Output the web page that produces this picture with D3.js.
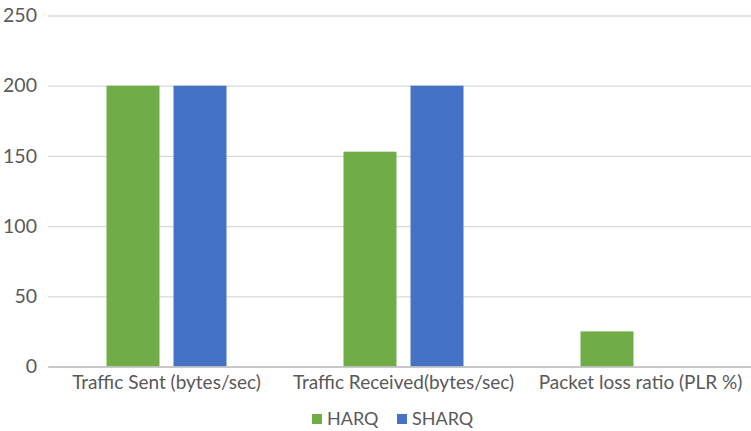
<!DOCTYPE html>
<html>
<head>
<meta charset="utf-8">
<script src="https://cdn.jsdelivr.net/npm/d3@7"></script>
<style>
  html, body { margin: 0; padding: 0; background: #fff; }
  svg { display: block; }
  text { font-family: Lato, "Open Sans", sans-serif; fill: #595959; }
</style>
</head>
<body>
<svg id="chart" width="751" height="431"></svg>
<script>
// Chart data
const categories = ["Traffic Sent (bytes/sec)", "Traffic Received(bytes/sec)", "Packet loss ratio (PLR %)"];
const seriesNames = ["HARQ", "SHARQ"];
const harqValues = [200, 153, 25];
const sharqValues = [200, 200, 0];
const yTicks = [0, 50, 100, 150, 200, 250];
const colors = ["#70AD47", "#4472C4"];

const FONT = 'Lato, "Open Sans", sans-serif';
const svg = d3.select("#chart");
const plot = { left: 48, right: 759, top: 15.5, bottom: 366.5 };

const x0 = d3.scaleBand().domain(categories).range([plot.left, plot.right]).padding(0);
const groupW = 120;
const x1 = d3.scaleBand().domain(seriesNames)
  .range([(x0.bandwidth() - groupW) / 2, (x0.bandwidth() + groupW) / 2])
  .paddingInner(14 / 67).paddingOuter(0);
const y = d3.scaleLinear().domain([0, 250]).range([plot.bottom, plot.top]);
const color = d3.scaleOrdinal().domain(seriesNames).range(colors);

// Horizontal gridlines and value labels
const yAxis = d3.axisLeft(y).tickValues(yTicks).tickSize(-(plot.right - plot.left)).tickPadding(11);
const gy = svg.append("g").attr("transform", `translate(${plot.left},0)`).call(yAxis);
gy.select(".domain").remove();
gy.selectAll(".tick line").attr("stroke", "#D9D9D9").attr("stroke-width", 1.3);
gy.selectAll(".tick text").attr("font-size", 19.5).attr("fill", "#595959").style("font-family", FONT);

// Bars
const rows = categories.map((c, i) => ({ cat: c, values: [harqValues[i], sharqValues[i]] }));
const groups = svg.append("g").selectAll("g").data(rows).join("g")
  .attr("transform", d => `translate(${x0(d.cat)},0)`);
groups.selectAll("rect")
  .data(d => seriesNames.map((s, j) => ({ s, v: d.values[j] })).filter(e => e.v > 0))
  .join("rect")
  .attr("x", d => x1(d.s))
  .attr("width", x1.bandwidth())
  .attr("y", d => y(d.v))
  .attr("height", d => y(0) - y(d.v))
  .attr("fill", d => color(d.s));

// Category axis
const xAxis = d3.axisBottom(x0).tickSize(0).tickPadding(9);
const gx = svg.append("g").attr("transform", `translate(0,${y(0)})`).call(xAxis);
gx.select(".domain").attr("stroke", "#BFBFBF").attr("stroke-width", 1.3);
gx.selectAll(".tick text").attr("font-size", 19).attr("fill", "#595959").style("font-family", FONT);

// Legend
const legendItems = [{ s: "HARQ", x: 312 }, { s: "SHARQ", x: 397 }];
const lg = svg.append("g").selectAll("g").data(legendItems).join("g")
  .attr("transform", d => `translate(${d.x},414)`);
lg.append("rect").attr("width", 10).attr("height", 10).attr("fill", d => color(d.s));
lg.append("text").attr("x", 15).attr("y", 5).attr("dy", "0.36em")
  .attr("font-size", 18).style("font-family", FONT).text(d => d.s);
</script>
</body>
</html>
